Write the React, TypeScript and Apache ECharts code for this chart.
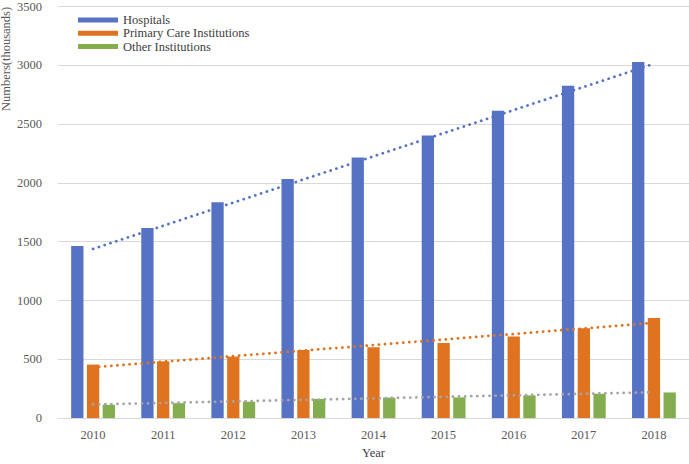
import React, { useEffect, useRef } from "react";
import * as echarts from "echarts";

const years = ["2010", "2011", "2012", "2013", "2014", "2015", "2016", "2017", "2018"];
const hospitals = [1463, 1617, 1835, 2033, 2217, 2402, 2614, 2826, 3027];
const primaryCare = [455, 482, 523, 579, 603, 639, 694, 763, 851];
const otherInst = [113, 127, 140, 163, 174, 176, 193, 207, 218];
const seriesNames = ["Hospitals", "Primary Care Institutions", "Other Institutions"];

const FONT = "Liberation Serif";

function linearTrend(values: number[]): number[] {
  const n = values.length;
  const mx = (n - 1) / 2;
  const my = values.reduce((a, b) => a + b, 0) / n;
  let num = 0;
  let den = 0;
  values.forEach((v, i) => {
    num += (i - mx) * (v - my);
    den += (i - mx) * (i - mx);
  });
  const slope = num / den;
  return values.map((_, i) => +(my + slope * (i - mx)).toFixed(2));
}

export default function App() {
  const ref = useRef<HTMLDivElement>(null);
  useEffect(() => {
    document.body.style.margin = "0";
    const chart = echarts.init(ref.current!, null, { renderer: "svg" });
    const colors = ["#5672c5", "#e0731f", "#83ad4f"];
    const trendColors = ["#5672c5", "#e0731f", "#a5a5a5"];
    const datasets = [hospitals, primaryCare, otherInst];
    const bars = datasets.map((d, i) => ({
      name: seriesNames[i],
      type: "bar",
      data: d,
      barWidth: 12.3,
      barGap: "28%",
      itemStyle: { color: colors[i] },
    }));
    const trends = datasets.map((d, i) => ({
      name: "trend" + i,
      type: "line",
      data: linearTrend(d),
      showSymbol: false,
      symbol: "none",
      silent: true,
      lineStyle: { color: trendColors[i], width: 2.75, type: [0.1, 6], cap: "round" },
      z: 3,
    }));
    chart.setOption({
      animation: false,
      backgroundColor: "#ffffff",
      textStyle: { fontFamily: FONT },
      grid: { left: 58, right: 0, top: 6, bottom: 35, containLabel: false },
      legend: {
        data: seriesNames,
        orient: "vertical",
        left: 78,
        top: 13.5,
        padding: 0,
        itemWidth: 40,
        itemHeight: 5,
        itemGap: 0.3,
        icon: "rect",
        textStyle: { fontFamily: FONT, fontSize: 12.5, color: "#404040", lineHeight: 13 },
      },
      xAxis: {
        type: "category",
        data: years,
        axisTick: { show: false },
        axisLine: { lineStyle: { color: "#d9d9d9", width: 1 } },
        axisLabel: { margin: 10, fontFamily: FONT, fontSize: 12.5, color: "#595959" },
        name: "Year",
        nameLocation: "middle",
        nameGap: 25,
        nameTextStyle: { fontFamily: FONT, fontSize: 12.5, color: "#404040" },
      },
      yAxis: {
        type: "value",
        min: 0,
        max: 3500,
        interval: 500,
        axisLine: { show: false },
        axisTick: { show: false },
        axisLabel: {
          margin: 16,
          fontFamily: FONT,
          fontSize: 12.5,
          color: "#595959",
          formatter: (v: number) => String(v),
        },
        splitLine: { lineStyle: { color: "#d9d9d9", width: 1 } },
      },
      graphic: [
        {
          type: "text",
          x: 6,
          y: 59,
          rotation: Math.PI / 2,
          style: {
            text: "Numbers(thousands)",
            font: `12.5px ${FONT}`,
            fill: "#595959",
            align: "center",
            verticalAlign: "middle",
          },
        },
      ],
      series: [...bars, ...trends],
    });
    return () => chart.dispose();
  }, []);
  return <div ref={ref} style={{ width: 689, height: 464 }} />;
}
